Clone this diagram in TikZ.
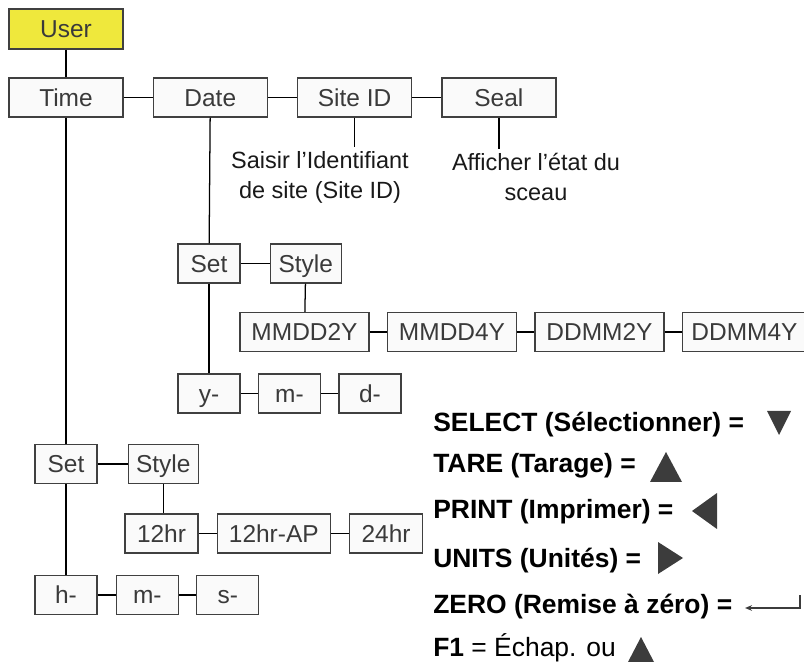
\documentclass[tikz,border=0pt]{standalone}
\usepackage{fontspec}
\setmainfont{Liberation Sans}
\usepackage{xcolor}
\usetikzlibrary{positioning,arrows.meta}
\definecolor{cborde}{HTML}{404040}
\definecolor{cfondo}{HTML}{FAFAFA}
\definecolor{camarillo}{HTML}{EFE83C}
\definecolor{ctexto}{HTML}{3A3A3A}
\definecolor{ctecla}{HTML}{3C3C3C}
\tikzset{
  caja/.style={rectangle, draw=cborde, fill=cfondo, line width=0.9pt, inner sep=0pt,
    minimum width=#1, minimum height=0.975cm, text height=12.5pt, text depth=0pt,
    text=ctexto, font=\fontsize{17.4}{20}\selectfont},
  caja/.default=2.85cm,
  cajay/.style={caja, fill=camarillo, minimum height=1cm},
  linea/.style={line width=0.9pt, draw=black},
  nota/.style={align=center, inner sep=3pt, text=black!90, font=\fontsize{16.7}{21.3}\selectfont},
  leyenda/.style={anchor=base west, inner sep=0pt, font=\fontsize{18.8}{22}\selectfont\bfseries},
  tecla/.style={fill=ctecla},
}

\begin{document}
\begin{tikzpicture}[x=0.025cm, y=-0.025cm]
  \useasboundingbox (0,0) rectangle (804,662);
  \node[cajay] (user) at (66,29) {User};
  \node[caja] (time) at (66,97.5) {Time};
  \node[caja, right=0.725cm of time] (date) {Date};
  \node[caja, right=0.725cm of date] (site) {Site ID};
  \node[caja, right=0.725cm of site] (seal) {Seal};
  \node[nota] (saisir) at (320,177) {Saisir l’Identifiant\\de site (Site ID)};
  \node[nota] (afficher) at (536,177) {Afficher l’état du\\sceau};
  \draw[linea] (user)--(time); \draw[linea] (time)--(date); \draw[linea] (date)--(site); \draw[linea] (site)--(seal);
  \draw[linea] (site)--(site |- saisir.north); \draw[linea] (seal)--(seal |- afficher.north);

  \node[caja=1.55cm] (setd) at (209,263.5) {Set};
  \node[caja=1.775cm, right=0.725cm of setd] (styled) {Style};
  \node[caja=3.225cm] (mm2y) at (304.5,332) {MMDD2Y};
  \node[caja=3.225cm, right=0.43cm of mm2y] (mm4y) {MMDD4Y};
  \node[caja=3.225cm, right=0.43cm of mm4y] (dd2y) {DDMM2Y};
  \node[caja=3.1cm, right=0.43cm of dd2y] (dd4y) {DDMM4Y};
  \node[caja=1.55cm] (yd) at (209,393.5) {y-};
  \node[caja=1.55cm, right=0.43cm of yd] (md) {m-};
  \node[caja=1.55cm, right=0.43cm of md] (dd) {d-};
  \draw[linea] (date)--(setd); \draw[linea] (setd)--(styled); \draw[linea] (styled)--(mm2y);
  \draw[linea] (mm2y)--(mm4y); \draw[linea] (mm4y)--(dd2y); \draw[linea] (dd2y)--(dd4y);
  \draw[linea] (setd)--(yd); \draw[linea] (yd)--(md); \draw[linea] (md)--(dd);

  \node[caja=1.55cm] (sett) at (66,464) {Set};
  \node[caja=1.75cm, right=0.75cm of sett] (stylet) {Style};
  \node[caja=1.825cm] (h12) at (161.5,533.5) {12hr};
  \node[caja=2.825cm, right=0.45cm of h12] (h12ap) {12hr-AP};
  \node[caja=1.825cm, right=0.45cm of h12ap] (h24) {24hr};
  \node[caja=1.55cm] (hh) at (66,595) {h-};
  \node[caja=1.55cm, right=0.45cm of hh] (mt) {m-};
  \node[caja=1.55cm, right=0.43cm of mt] (st) {s-};
  \draw[linea] (time)--(sett); \draw[linea] (sett)--(stylet); \draw[linea] (stylet)--(stylet |- h12.north);
  \draw[linea] (h12)--(h12ap); \draw[linea] (h12ap)--(h24);
  \draw[linea] (sett)--(hh); \draw[linea] (hh)--(mt); \draw[linea] (mt)--(st);

  \node[leyenda] (select) at (433,432) {SELECT (Sélectionner) =};
  \node[leyenda] (tare) at (433,473) {TARE (Tarage) =};
  \node[leyenda] (print) at (433,519) {PRINT (Imprimer) =};
  \node[leyenda] (units) at (433,567) {UNITS (Unités) =};
  \node[leyenda] (zero) at (433,613) {ZERO (Remise à zéro) =};
  \node[leyenda] (fone) at (433,656) {F1 \mdseries = Échap. ou};
  \fill[tecla] (767,411)--(791,411)--(779,435)--cycle;
  \fill[tecla] (650,482)--(682,482)--(666,452)--cycle;
  \fill[tecla] (717,493)--(717,529)--(692,511)--cycle;
  \fill[tecla] (658,542)--(658,574)--(683,558)--cycle;
  \fill[tecla] (628,662)--(654,662)--(641,637)--cycle;
  \draw[line width=0.8pt, draw=ctecla, {Stealth[length=5pt,width=4pt]}-] (745,608)--(800,608)--(800,595);
\end{tikzpicture}
\end{document}
